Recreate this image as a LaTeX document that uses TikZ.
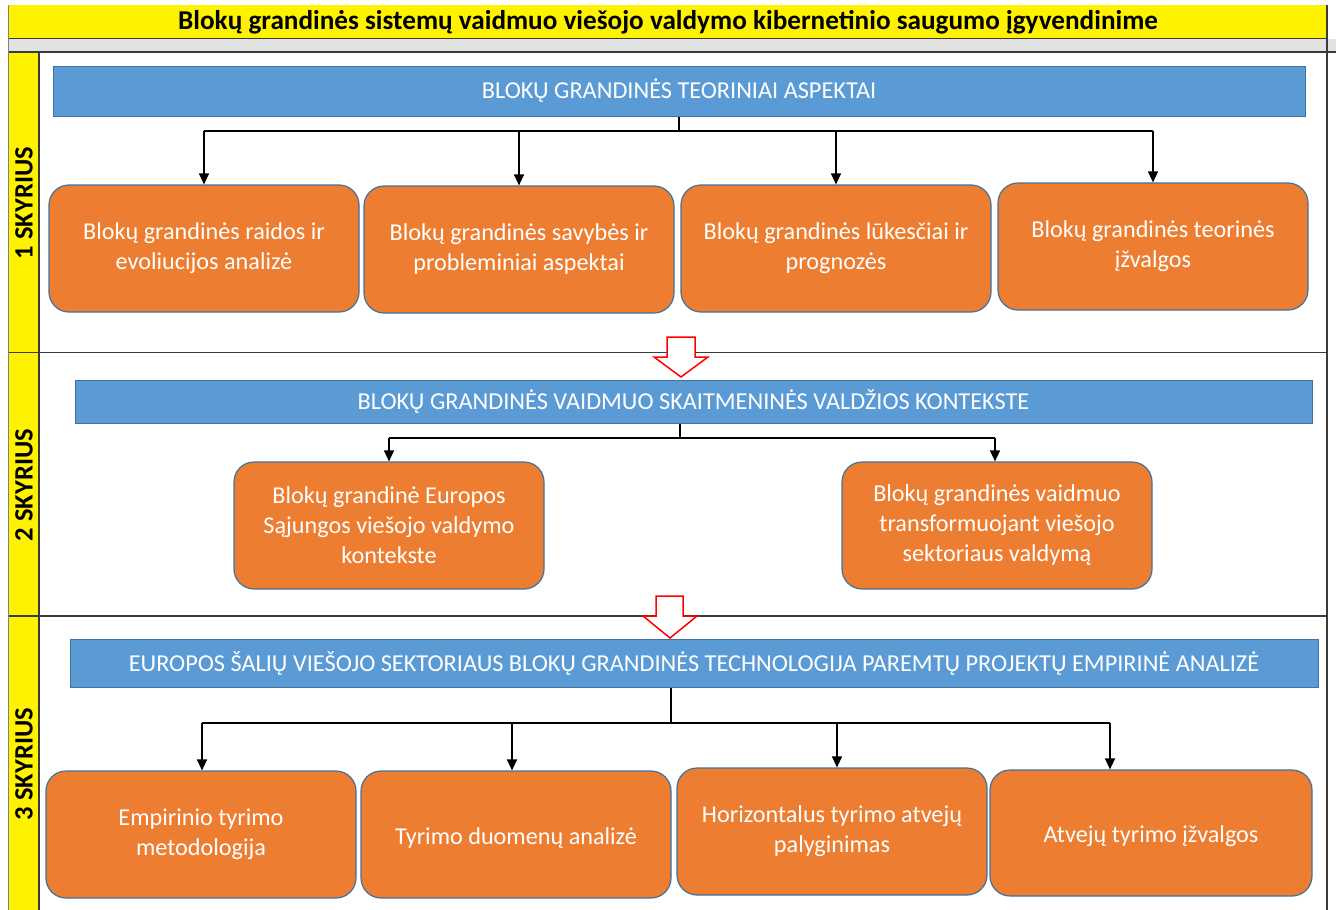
\documentclass[tikz,border=0pt]{standalone}
\usepackage{fontspec}
\setmainfont{Carlito}
\usetikzlibrary{arrows.meta}
\definecolor{boxorange}{HTML}{ED7D31}
\definecolor{barblue}{HTML}{5B9BD5}
\definecolor{edgeblue}{HTML}{41719C}
\definecolor{bandgray}{HTML}{E2E2E2}
\definecolor{rulegray}{HTML}{3A3A3A}
\begin{document}
\begin{tikzpicture}[x=1pt,y=-1pt,
  stagebox/.style={draw=edgeblue, line width=1.2pt, fill=boxorange, rounded corners=20pt,
    minimum width=310pt, minimum height=127pt, inner sep=0pt, text=white, align=center,
    font=\fontsize{24.2}{30}\selectfont, execute at begin node={\rule{0pt}{23pt}}},
  headbar/.style={draw=edgeblue, line width=1pt, fill=barblue, inner sep=0pt, text=white,
    font=\fontsize{24.3}{28}\selectfont},
  trunk/.style={line width=1.3pt, black},
  link/.style={line width=1.3pt, black, -{Triangle[width=10pt,length=11pt]}},
  handoff/.style={draw=red, line width=1.5pt, fill=white, line join=miter},
  chapter/.style={rotate=90, font=\bfseries\fontsize{26.5}{30}\selectfont, text=black},
  rule/.style={draw=rulegray, line width=1.5pt}]
\useasboundingbox (0,0) rectangle (1336,910);
\fill[white] (0,0) rectangle (1336,910);

% page frame: title strip, grey band, chapter column
\fill[yellow] (8,5) rectangle (1327,38);
\fill[bandgray] (8,39) rectangle (1336,52);
\fill[yellow] (8,52) rectangle (39,910);
\draw[rule] (8,38.5) -- (1327,38.5);
\draw[rule] (8,52) -- (1336,52);
\draw[rule] (39,52) -- (39,910);
\draw[rule] (8,352.5) -- (1327,352.5);
\draw[rule] (8,616) -- (1327,616);
\draw[rule] (1327,5) -- (1327,910);
\draw[gray, line width=0.8pt] (8,5) -- (8,910);

\node[font=\bfseries\fontsize{27.2}{30}\selectfont] (title) at (668,22)
  {Blokų grandinės sistemų vaidmuo viešojo valdymo kibernetinio saugumo įgyvendinime};

\node[chapter] (ch1) at (24,203) {1 SKYRIUS};
\node[chapter] (ch2) at (24,485) {2 SKYRIUS};
\node[chapter] (ch3) at (24,764) {3 SKYRIUS};

% chapter 1
\node[headbar, minimum width=1252pt, minimum height=50pt] (bar1) at (679,91)
  {BLOKŲ GRANDINĖS TEORINIAI ASPEKTAI};
\node[stagebox] (b11) at (204,248.5) {Blokų grandinės raidos ir\\evoliucijos analizė};
\node[stagebox] (b12) at (519,249.5) {Blokų grandinės savybės ir\\probleminiai aspektai};
\node[stagebox] (b13) at (836,248.5) {Blokų grandinės lūkesčiai ir\\prognozės};
\node[stagebox] (b14) at (1153,246.5) {Blokų grandinės teorinės\\įžvalgos};
\coordinate (s1) at (679,131);
\draw[trunk] (bar1.south) -- (s1);
\draw[trunk] (b11.north |- s1) -- (b14.north |- s1);
\foreach \b in {b11,b12,b13,b14} \draw[link] (\b.north |- s1) -- (\b.north);

% hand-over arrow 1 -> 2
\draw[handoff] (667,337) -- (695,337) -- (695,357) -- (708,357) -- (681,377)
  -- (654,357) -- (667,357) -- cycle;

% chapter 2
\node[headbar, minimum width=1237pt, minimum height=43pt] (bar2) at (693.5,401.5)
  {BLOKŲ GRANDINĖS VAIDMUO SKAITMENINĖS VALDŽIOS KONTEKSTE};
\node[stagebox] (b21) at (389,525.5) {Blokų grandinė Europos\\Sąjungos viešojo valdymo\\kontekste};
\node[stagebox] (b22) at (997,525.5) {Blokų grandinės vaidmuo\\transformuojant viešojo\\sektoriaus valdymą};
\coordinate (s2) at (680,438);
\draw[trunk] (bar2.south -| s2) -- (s2);
\draw[trunk] (b21.north |- s2) -- ([xshift=-2pt]b22.north |- s2);
\draw[link] (b21.north |- s2) -- (b21.north);
\draw[link] ([xshift=-2pt]b22.north |- s2) -- ([xshift=-2pt]b22.north);

% hand-over arrow 2 -> 3
\draw[handoff] (656,596) -- (683,596) -- (683,616) -- (697,616) -- (670,638)
  -- (643,616) -- (656,616) -- cycle;

% chapter 3
\node[headbar, minimum width=1248pt, minimum height=48pt] (bar3) at (694,663)
  {EUROPOS ŠALIŲ VIEŠOJO SEKTORIAUS BLOKŲ GRANDINĖS TECHNOLOGIJA PAREMTŲ PROJEKTŲ EMPIRINĖ ANALIZĖ};
\node[stagebox] (b31) at (201,834.5) {Empirinio tyrimo\\metodologija};
\node[stagebox] (b32) at (516,834.5) {Tyrimo duomenų analizė};
\node[stagebox] (b33) at (832,831.5) {Horizontalus tyrimo atvejų\\palyginimas};
\node[stagebox, minimum width=322pt, minimum height=126pt] (b34) at (1151,833) {Atvejų tyrimo įžvalgos};
\coordinate (s3) at (671,723);
\draw[trunk] (bar3.south -| s3) -- (s3);
\draw[trunk] ([xshift=1pt]b31.north |- s3) -- ([xshift=-41pt]b34.north |- s3);
\draw[link] ([xshift=1pt]b31.north |- s3) -- ([xshift=1pt]b31.north);
\draw[link] ([xshift=-4pt]b32.north |- s3) -- ([xshift=-4pt]b32.north);
\draw[link] ([xshift=5pt]b33.north |- s3) -- ([xshift=5pt]b33.north);
\draw[link] ([xshift=-41pt]b34.north |- s3) -- ([xshift=-41pt]b34.north);
\end{tikzpicture}
\end{document}
